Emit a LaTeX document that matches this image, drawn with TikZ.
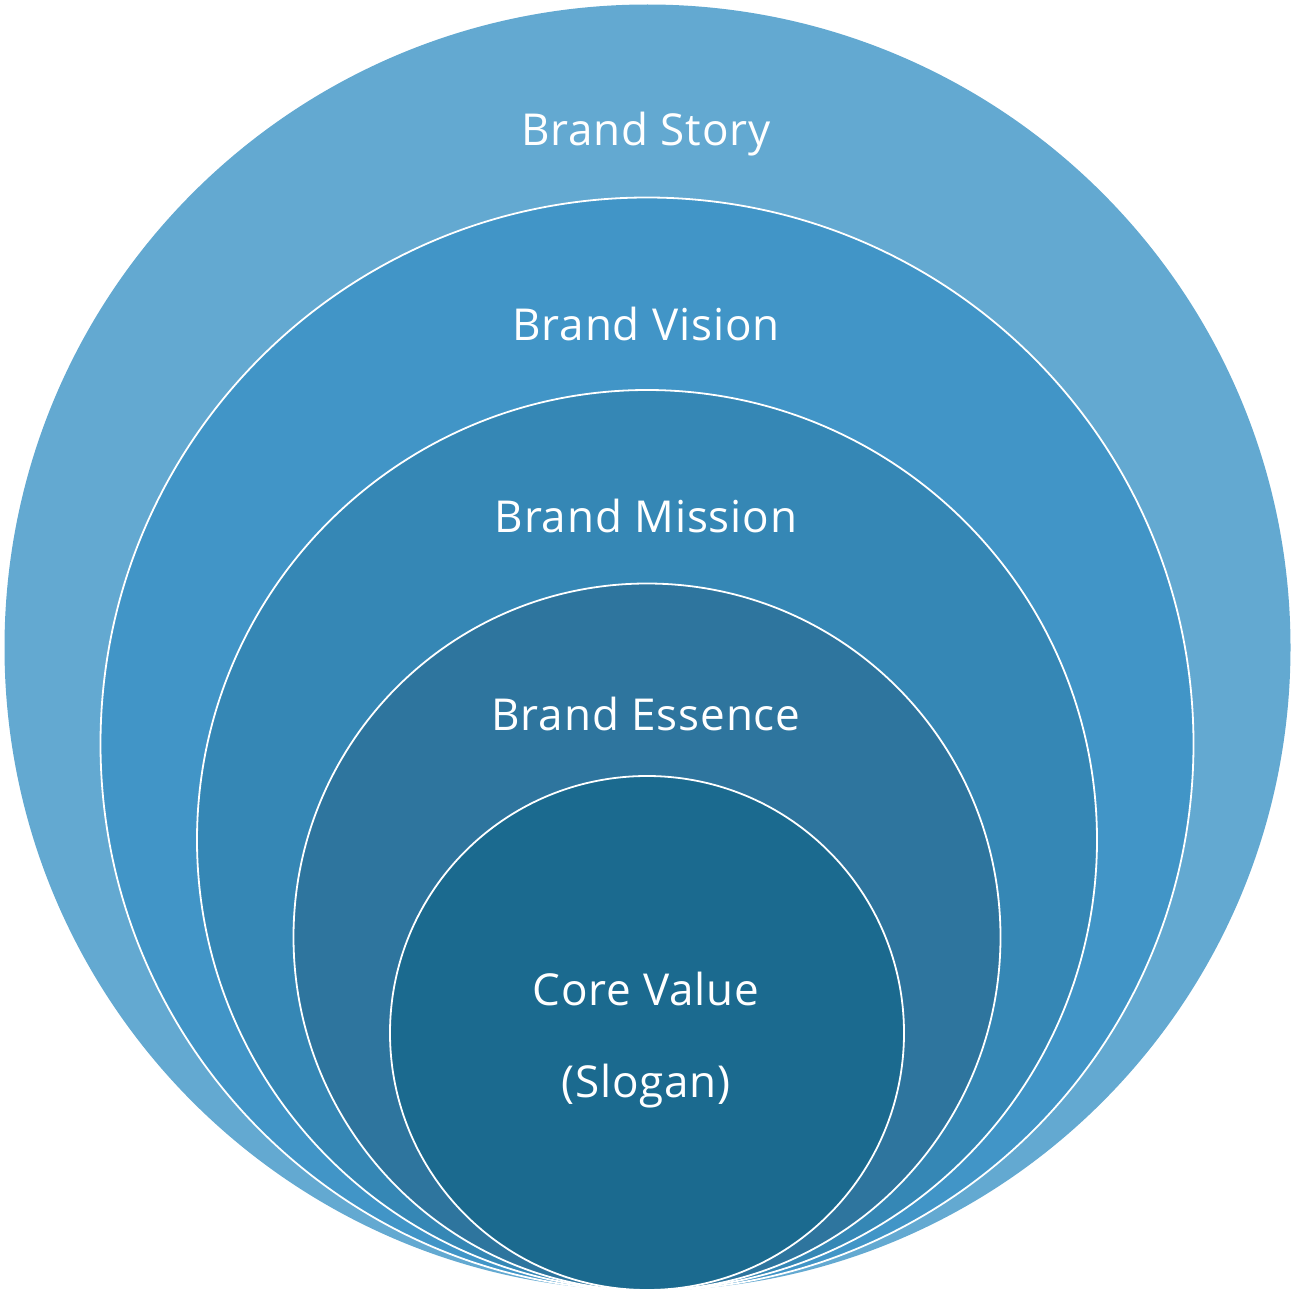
\documentclass[tikz,border=0pt]{standalone}
\usepackage{fontspec}
\setmainfont[LetterSpace=2]{Open Sans}
\definecolor{cA}{HTML}{63A9D1}
\definecolor{cB}{HTML}{4195C7}
\definecolor{cC}{HTML}{3587B5}
\definecolor{cD}{HTML}{2E759E}
\definecolor{cE}{HTML}{1B6A8F}
\begin{document}
\begin{tikzpicture}[x=1pt,y=1pt,
  ring/.style={circle,inner sep=0pt,outer sep=0pt,draw=white,line width=1.8pt},
  lbl/.style={text=white,font=\fontsize{44}{52}\selectfont,inner sep=0pt}]
\useasboundingbox (0,0) rectangle (1302,-1298);
\node[ring,draw=none,fill=cA,minimum size=1286] (story) at (647.5,-647.5) {};
\node[ring,fill=cB,minimum size=1093] (vision) at (647,-744) {};
\node[ring,fill=cC,minimum size=900] (mission) at (647,-840) {};
\node[ring,fill=cD,minimum size=707] (essence) at (647,-937) {};
\node[ring,fill=cE,minimum size=514] (core) at (647,-1033) {};
\node[lbl] (tstory) at (646,-134) {Brand Story};
\node[lbl] (tvision) at (646,-324) {Brand Vision};
\node[lbl] (tmission) at (646,-516) {Brand Mission};
\node[lbl] (tessence) at (646,-714) {Brand Essence};
\node[lbl] (tcore) at (646,-989) {Core Value};
\node[lbl] (tslogan) at (646,-1086) {(Slogan)};
\end{tikzpicture}
\end{document}
